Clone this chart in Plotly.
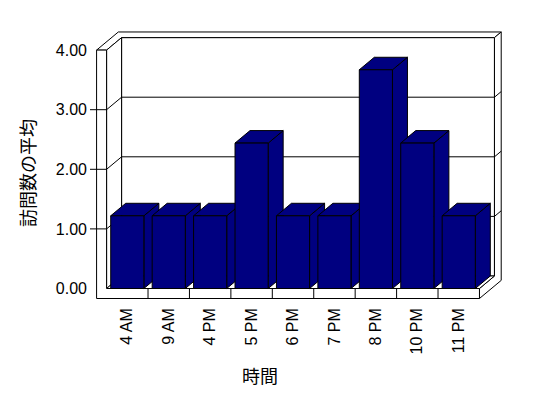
import plotly.graph_objects as go

# ---------------- data ----------------
categories = ["4 AM", "9 AM", "4 PM", "5 PM", "6 PM", "7 PM", "8 PM", "10 PM", "11 PM"]
avg_visits = [1.22, 1.22, 1.22, 2.44, 1.22, 1.22, 3.67, 2.44, 1.22]
y_ticks = [0, 1, 2, 3, 4]
y_tick_labels = ["0.00", "1.00", "2.00", "3.00", "4.00"]
x_title = "時間"
y_title = "訪問数の平均"

# ---------------- layout geometry (pixels) ----------------
W, H = 548, 398
PL, PR, PT, PB = 88, 512, 20, 304      # plot area edges in px
CAT_PX, CAT0_PX = 41.43, 127.3          # px per category, px of first category centre
VAL_PX, ZERO_PX = 59.6, 288.5           # px per value unit, px of value 0 (front plane)
TICK_START_PX = 90

xr = [(PL - CAT0_PX) / CAT_PX, (PR - CAT0_PX) / CAT_PX]
yr = [(ZERO_PX - PB) / VAL_PX, (ZERO_PX - PT) / VAL_PX]

DX = 15 / CAT_PX        # depth offset (one depth unit) in x data units
DY = 12.5 / VAL_PX      # depth offset in y data units
WALL = 10 / CAT_PX      # left wall thickness
FLOOR = 10 / VAL_PX     # floor thickness
TB = 1.45               # depth including back wall thickness
BW = 0.8                # bar width
n = len(categories)
XL, XR = -0.5, n - 0.5
YMAX = y_ticks[-1]
TICK_X = (TICK_START_PX - CAT0_PX) / CAT_PX

NAVY = "#000080"
fig = go.Figure()


def poly(pts, fill):
    xs = [p[0] for p in pts] + [pts[0][0]]
    ys = [p[1] for p in pts] + [pts[0][1]]
    fig.add_trace(go.Scatter(x=xs, y=ys, mode="lines", fill="toself", fillcolor=fill,
                             line=dict(color="black", width=1), hoverinfo="skip",
                             showlegend=False))


# walls and floor (white)
poly([(XL + DX, DY), (XR + DX, DY), (XR + DX, YMAX + DY), (XL + DX, YMAX + DY)], "white")
poly([(XL - WALL, YMAX), (XL, YMAX), (XL + DX, YMAX + DY), (XR + DX, YMAX + DY),
      (XR + TB * DX, YMAX + TB * DY), (XL - WALL + TB * DX, YMAX + TB * DY)], "white")
poly([(XR, 0), (XR, -FLOOR), (XR + TB * DX, -FLOOR + TB * DY), (XR + TB * DX, YMAX + TB * DY),
      (XR + DX, YMAX + DY), (XR + DX, DY)], "white")
poly([(XL, 0), (XL, YMAX), (XL + DX, YMAX + DY), (XL + DX, DY)], "white")
poly([(XL, 0), (XR, 0), (XR + DX, DY), (XL + DX, DY)], "white")
poly([(XL - WALL, -FLOOR), (XR, -FLOOR), (XR, 0), (XL, 0), (XL, YMAX), (XL - WALL, YMAX)], "white")

# gridlines + tick stubs + floor dividers
lx, ly = [], []
for v in y_ticks[1:-1]:
    lx += [TICK_X, XL, XL + DX, XR + DX, XR + TB * DX, None]
    ly += [v, v, v + DY, v + DY, v + TB * DY, None]
for k in range(n - 1):
    lx += [k + 0.5, k + 0.5, None]
    ly += [-FLOOR, 0, None]
fig.add_trace(go.Scatter(x=lx, y=ly, mode="lines", line=dict(color="black", width=1),
                         hoverinfo="skip", showlegend=False))

# 3-D sides and tops of bars
for i, v in enumerate(avg_visits):
    r, l = i + BW / 2, i - BW / 2
    poly([(r, 0), (r, v), (r + DX, v + DY), (r + DX, DY)], NAVY)
    poly([(l, v), (l + DX, v + DY), (r + DX, v + DY), (r, v)], NAVY)

# front faces of bars (overlaid axes so they sit on top)
fig.add_trace(go.Bar(x=list(range(n)), y=avg_visits, width=BW, xaxis="x2", yaxis="y2",
                     marker=dict(color=NAVY, line=dict(color="black", width=1)),
                     hoverinfo="skip", showlegend=False))

pw, ph = PR - PL, PB - PT


def paper_x(px):
    return (px - PL) / pw


def paper_y(py):
    return (PB - py) / ph


fig.update_layout(
    width=W, height=H,
    margin=dict(l=PL, r=W - PR, t=PT, b=H - PB),
    paper_bgcolor="white", plot_bgcolor="white",
    showlegend=False,
    xaxis=dict(range=xr, tickvals=list(range(n)), ticktext=categories, tickangle=-90,
               ticks="", showgrid=False, zeroline=False, showline=False,
               tickfont=dict(family="Liberation Sans", size=16, color="black")),
    yaxis=dict(range=yr, tickvals=y_ticks, ticktext=y_tick_labels, ticks="",
               showgrid=False, zeroline=False, showline=False,
               tickfont=dict(family="Liberation Sans", size=16, color="black")),
    xaxis2=dict(range=xr, overlaying="x", visible=False),
    yaxis2=dict(range=yr, overlaying="y", visible=False),
    annotations=[
        dict(text=x_title, xref="paper", yref="paper", x=paper_x(260), y=paper_y(375),
             xanchor="center", yanchor="middle", showarrow=False,
             font=dict(family="Noto Sans CJK JP", size=18, color="black")),
        dict(text=y_title, xref="paper", yref="paper", x=paper_x(27), y=paper_y(173),
             xanchor="center", yanchor="middle", showarrow=False, textangle=-90,
             font=dict(family="Noto Sans CJK JP", size=18, color="black")),
    ],
)

fig.write_html("out.html")
